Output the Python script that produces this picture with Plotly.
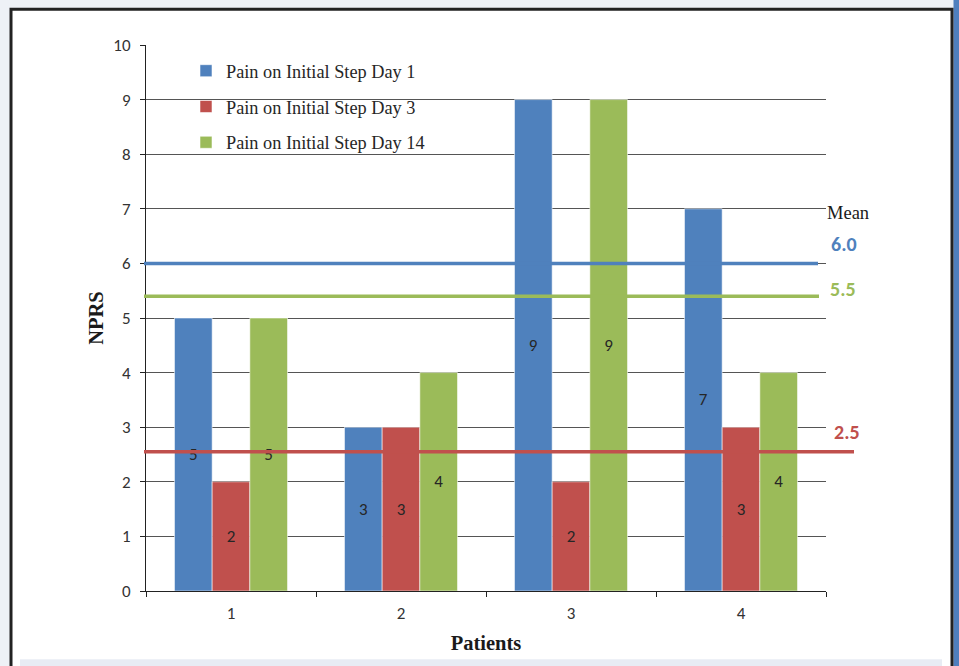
import plotly.graph_objects as go

patients = ["1", "2", "3", "4"]
series_names = ["Pain on Initial Step Day 1", "Pain on Initial Step Day 3", "Pain on Initial Step Day 14"]
day1 = [5, 3, 9, 7]
day3 = [2, 3, 2, 3]
day14 = [5, 4, 9, 4]
colors = ["#4F81BD", "#C0504D", "#9BBB59"]
mean_labels = ["6.0", "2.5", "5.5"]
mean_line_levels = [6.0, 2.55, 5.4]   # where the mean lines are drawn in the original
y_ticks = list(range(0, 11))

PL, PR, PT, PB = 146, 826, 44.7, 590.7
W, H = 959, 666
pw, ph = PR - PL, PB - PT

SANS = "Carlito, Lato, sans-serif"
SERIF = "Liberation Serif, Times New Roman, serif"


def px_x(x):
    return (x - PL) / pw


def px_y(y):
    return (PB - y) / ph


fig = go.Figure()
for i, (name, vals) in enumerate(zip(series_names, [day1, day3, day14])):
    fig.add_trace(go.Bar(
        x=patients, y=vals, name=name,
        marker=dict(color=colors[i], line=dict(color="rgba(255,255,255,0.55)", width=1)),
        text=[str(v) for v in vals], textposition="inside", insidetextanchor="middle",
        textangle=0, constraintext="none",
        textfont=dict(family=SANS, size=17, color="#262626"),
        legendgroup=f"g{i}", cliponaxis=False,
    ))

shapes = []
shapes.append(dict(type="rect", xref="paper", yref="paper", x0=px_x(953.5), x1=px_x(975), y0=px_y(-20), y1=px_y(700),
                   fillcolor="#4F7FBE", line=dict(width=0), layer="below"))
shapes.append(dict(type="rect", xref="paper", yref="paper", x0=px_x(11), x1=px_x(952), y0=px_y(9), y1=px_y(690),
                   fillcolor="white", line=dict(color="#222222", width=3), layer="below"))
shapes.append(dict(type="rect", xref="paper", yref="paper", x0=px_x(20), x1=px_x(942), y0=px_y(659), y1=px_y(680),
                   fillcolor="#E8ECF4", line=dict(width=0), layer="below"))
ends = {0: 818, 1: 854, 2: 819}
for i in range(3):
    shapes.append(dict(type="line", xref="paper", yref="y", x0=px_x(144), x1=px_x(ends[i]),
                       y0=mean_line_levels[i], y1=mean_line_levels[i],
                       line=dict(color=colors[i], width=3.5), layer="above"))

annotations = [
    dict(xref="paper", yref="paper", x=px_x(825), y=px_y(213), text="Mean", showarrow=False,
         xanchor="left", yanchor="middle", font=dict(family=SERIF, size=18.5, color="#1a1a1a")),
]
label_pos = {0: (829, 244), 1: (832, 432), 2: (828, 289)}
for i in range(3):
    lx, ly = label_pos[i]
    annotations.append(dict(xref="paper", yref="paper", x=px_x(lx), y=px_y(ly), text=f"<b>{mean_labels[i]}</b>",
                            showarrow=False, xanchor="left", yanchor="middle",
                            font=dict(family=SANS, size=20, color=colors[i])))

fig.update_layout(
    width=W, height=H,
    margin=dict(l=PL, r=W - PR, t=PT, b=H - PB, pad=0),
    paper_bgcolor="#EEF1F6", plot_bgcolor="white",
    barmode="group", bargap=0.335, bargroupgap=0,
    shapes=shapes, annotations=annotations,
    showlegend=True,
    legend=dict(x=px_x(186), y=px_y(52), xanchor="left", yanchor="top",
                bgcolor="rgba(0,0,0,0)", traceorder="grouped", tracegroupgap=9,
                font=dict(family=SERIF, size=18.3, color="#262626")),
    xaxis=dict(type="category", showgrid=False, showline=True, linecolor="#222222", linewidth=1,
               ticks="outside", tickson="boundaries", ticklen=5, tickcolor="#222222",
               ticklabelstandoff=7,
               tickfont=dict(family=SANS, size=17, color="#333333"),
               title=dict(text="<b>Patients</b>", standoff=12,
                          font=dict(family=SERIF, size=20.5, color="#1a1a1a"))),
    yaxis=dict(range=[0, 10], tickvals=y_ticks, showgrid=True, gridcolor="#555555", gridwidth=1,
               showline=True, linecolor="#222222", linewidth=1, zeroline=False,
               ticks="outside", ticklen=5, tickcolor="#222222",
               ticklabelstandoff=6,
               tickfont=dict(family=SANS, size=17, color="#333333"),
               title=dict(text="<b>NPRS</b>", standoff=4,
                          font=dict(family=SERIF, size=20.5, color="#1a1a1a"))),
)

fig.write_html("out.html", config={"displayModeBar": False},
               post_script="document.body.style.margin='0';document.body.style.overflow='hidden';")
